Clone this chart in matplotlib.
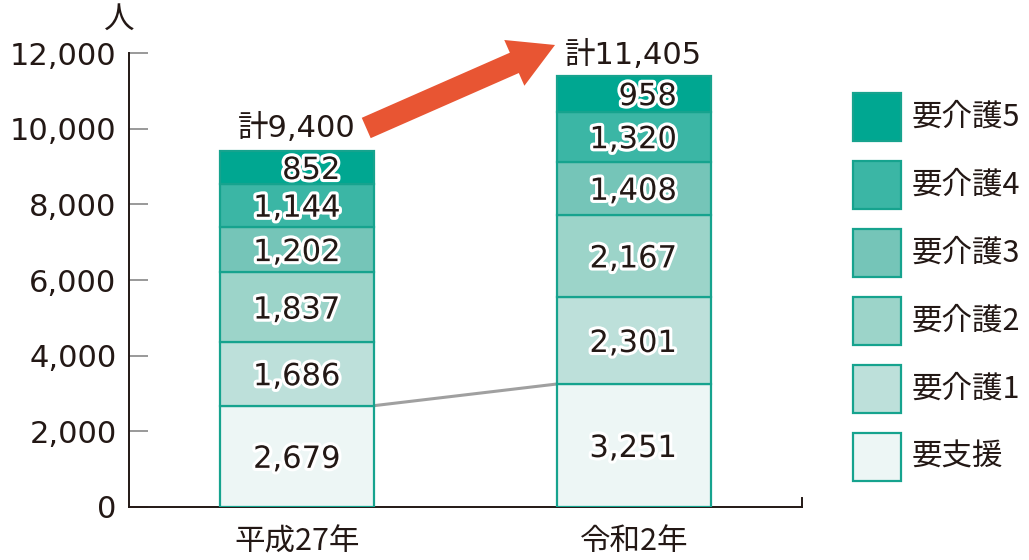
import matplotlib
matplotlib.use("Agg")
import matplotlib.pyplot as plt
import matplotlib.patheffects as pe
from matplotlib.patches import Rectangle

plt.rcParams['font.family'] = ['DejaVu Sans', 'Noto Sans CJK JP']
CJK = ['Noto Sans CJK JP', 'DejaVu Sans']

years = ['平成27年', '令和2年']
categories = ['要支援', '要介護1', '要介護2', '要介護3', '要介護4', '要介護5']
values_h27 = [2679, 1686, 1837, 1202, 1144, 852]
values_r2 = [3251, 2301, 2167, 1408, 1320, 958]
totals = [9400, 11405]
yticks = [0, 2000, 4000, 6000, 8000, 10000, 12000]

colors = ['#EDF6F5', '#BDE0DA', '#9CD4C9', '#75C5B8', '#3BB6A5', '#00A791']
edge = '#16A38E'
txt = '#231815'

fig = plt.figure(figsize=(10.29, 5.6), dpi=100)
ax = fig.add_axes([129/1029, 1-507/560, (802-129)/1029, (507-53)/560])

xs = [0, 1]
width = 0.457
series = list(zip(values_h27, values_r2))
bottoms = [0, 0]
for i, cat in enumerate(categories):
    vals = series[i]
    ax.bar(xs, vals, width, bottom=bottoms, color=colors[i], edgecolor=edge,
           linewidth=1.6, zorder=3)
    for x, v, b in zip(xs, vals, bottoms):
        ax.text(x + 0.128, b + v/2, f'{v:,}', ha='right', va='center_baseline',
                fontsize=22, color=txt, zorder=5,
                path_effects=[pe.withStroke(linewidth=4.5, foreground='white')])
    bottoms = [b + v for b, v in zip(bottoms, vals)]

# connecting line between 要支援 tops
ax.plot([xs[0] + width/2, xs[1] - width/2], [values_h27[0], values_r2[0]],
        color='#A0A0A0', linewidth=2.2, zorder=2, solid_capstyle='butt')

# totals
ax.text(xs[0] + 0.172, totals[0] + 620, f'計{totals[0]:,}', ha='right', va='center',
        fontsize=22, color=txt)
ax.text(xs[1] - 0.205, totals[1] + 540, f'計{totals[1]:,}', ha='left', va='center',
        fontsize=22, color=txt, clip_on=False)

# arrow
ax.annotate('', xy=(0.766, 12212), xytext=(0.205, 10018),
            xycoords='data', textcoords='data', annotation_clip=False,
            arrowprops=dict(arrowstyle='simple,head_width=1.8,head_length=1.6,tail_width=0.8',
                            mutation_scale=20, color='#E85533', shrinkA=0, shrinkB=0,
                            linewidth=0))

ax.set_xlim(-0.5, 1.5)
ax.set_ylim(0, 12000)
ax.set_yticks(yticks)
ax.set_yticklabels([f'{t:,}' for t in yticks], fontsize=22, color=txt)
ax.set_xticks(xs)
ax.set_xticklabels(years, fontsize=22, color=txt, family=CJK)
ax.tick_params(axis='x', length=0, pad=14)
ax.tick_params(axis='y', direction='in', length=14, width=1.2, color='#888888', pad=9)
for s in ['top', 'right']:
    ax.spines[s].set_visible(False)
for s in ['left', 'bottom']:
    ax.spines[s].set_color(txt)
    ax.spines[s].set_linewidth(1.4)
# small end tick on x-axis
ax.plot([1.5, 1.5], [0, 250], color=txt, linewidth=1.4, clip_on=False, zorder=4)

ax.text(-0.53, 12480, '人', ha='center', va='bottom', fontsize=22, color=txt,
        clip_on=False, family=CJK)

# legend (manual)
W, H = 1029, 560
for k, cat in enumerate(reversed(categories)):
    ci = len(categories) - 1 - k
    top = 93 + k * 68
    fig.add_artist(Rectangle((853/W, 1-(top+48)/H), 48/W, 48/H,
                             transform=fig.transFigure, facecolor=colors[ci],
                             edgecolor=edge, linewidth=1.6))
    fig.text(912/W, 1-(top+24)/H, cat, ha='left', va='center', fontsize=22,
             color=txt, family=CJK)

fig.savefig('out.png', dpi=100)
